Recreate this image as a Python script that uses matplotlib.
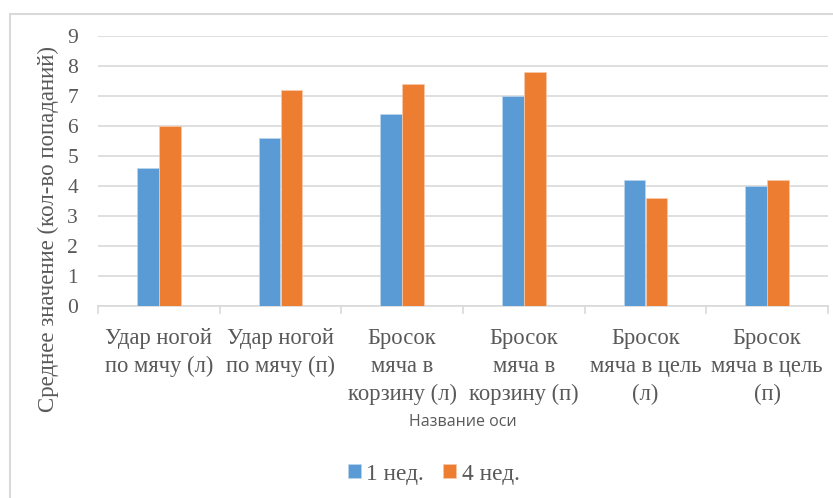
import matplotlib
matplotlib.use("Agg")
import matplotlib.pyplot as plt
from matplotlib.patches import Rectangle
import numpy as np

categories = [
    "Удар ногой\nпо мячу (л)",
    "Удар ногой\nпо мячу (п)",
    "Бросок\nмяча в\nкорзину (л)",
    "Бросок\nмяча в\nкорзину (п)",
    "Бросок\nмяча в цель\n(л)",
    "Бросок\nмяча в цель\n(п)",
]
week1 = [4.6, 5.6, 6.4, 7.0, 4.2, 4.0]
week4 = [6.0, 7.2, 7.4, 7.8, 3.6, 4.2]
series_names = ["1 нед.", "4 нед."]
y_ticks = list(range(0, 10))

BLUE = "#5B9BD5"
ORANGE = "#ED7D31"
GRID = "#D9D9D9"
TEXT = "#595959"
SERIF = "Liberation Serif"

W, H = 833, 498
PX = 72 / 100  # points per pixel at 100 dpi
fig = plt.figure(figsize=(W / 100, H / 100), dpi=100)
fig.patch.set_facecolor("white")

# chart frame
fig.add_artist(Rectangle((10 / W, -0.05), 1.1, 1 - 14 / H + 0.05,
                         transform=fig.transFigure, fill=False,
                         edgecolor=GRID, lw=1.5))

ax = fig.add_axes([98 / W, 1 - 306 / H, (828 - 98) / W, (306 - 36) / H])
x = np.arange(len(categories))
bw = 0.18
ax.bar(x - bw / 2, week1, bw, color=BLUE, label=series_names[0], zorder=3,
       edgecolor="#BDD7EE", linewidth=0.5)
ax.bar(x + bw / 2, week4, bw, color=ORANGE, label=series_names[1], zorder=3,
       edgecolor="#F8CBAD", linewidth=0.5)

ax.set_xlim(-0.5, len(categories) - 0.5)
ax.set_ylim(0, 9)
ax.set_yticks(y_ticks)
ax.set_yticklabels([str(t) for t in y_ticks], fontfamily=SERIF,
                   fontsize=15.5, color=TEXT)
ax.tick_params(axis="y", length=0, pad=20 * PX)
ax.yaxis.grid(True, color=GRID, lw=1.2, zorder=0)

ax.set_xticks(x)
ax.set_xticklabels(categories, fontfamily=SERIF, fontsize=16.3, color=TEXT,
                   linespacing=1.43)
ax.tick_params(axis="x", length=0, pad=22 * PX)
# boundary tick marks between categories
for b in np.arange(-0.5, len(categories), 1.0):
    ax.plot([b, b], [0, -0.233], color=GRID, lw=1.2, clip_on=False, zorder=4)

for s in ["top", "right", "left"]:
    ax.spines[s].set_visible(False)
ax.spines["bottom"].set_color(GRID)
ax.spines["bottom"].set_linewidth(1.2)
ax.set_axisbelow(True)

fig.text(48.5 / W, 1 - 229 / H, "Среднее значение (кол-во попаданий)",
         rotation=90, ha="center", va="center", fontfamily=SERIF,
         fontsize=16.5, color=TEXT)
fig.text(462.5 / W, 1 - 426 / H, "Название оси", ha="center", va="baseline",
         fontfamily="Open Sans", fontsize=11.5, color=TEXT)

leg = ax.legend(loc="center", bbox_to_anchor=(433.5 / W, 1 - 474 / H),
                bbox_transform=fig.transFigure, ncol=2, frameon=False,
                borderpad=0, prop={"family": SERIF, "size": 16.8},
                handlelength=0.56, handleheight=0.52, handletextpad=0.22,
                columnspacing=0.85)
for t in leg.get_texts():
    t.set_color(TEXT)

fig.savefig("out.png", dpi=100)
